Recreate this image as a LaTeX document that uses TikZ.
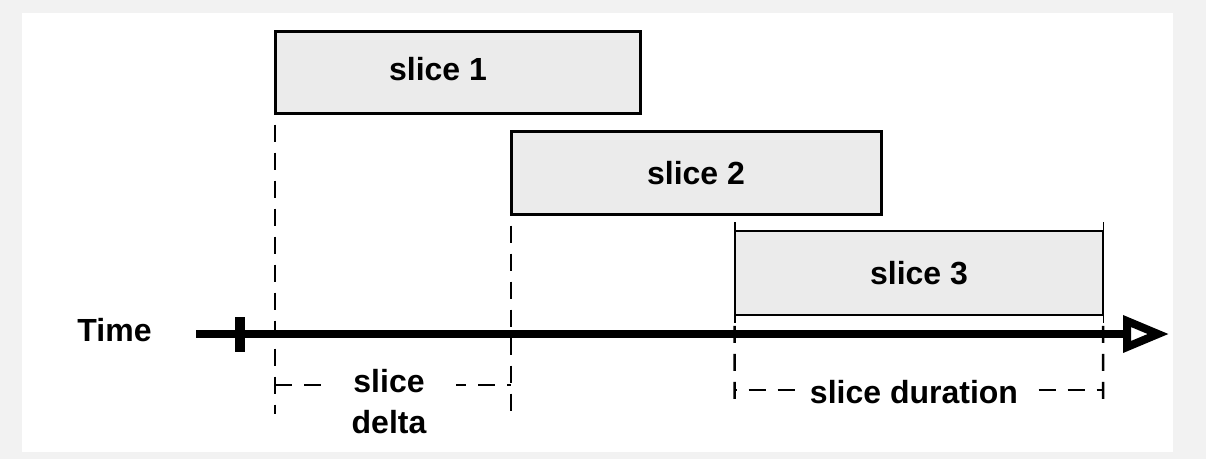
\documentclass[tikz,border=0pt]{standalone}
\usepackage{fontspec}
\setmainfont{Liberation Sans}
\definecolor{bggray}{RGB}{242,242,242}
\definecolor{boxgray}{RGB}{235,235,235}
\begin{document}
\begin{tikzpicture}[x=1pt,y=-1pt,
  slicebox/.style={draw=black, line width=3pt, fill=boxgray, inner sep=0pt, outer sep=0pt,
    font=\fontsize{32}{41}\selectfont\bfseries},
  lbl/.style={font=\fontsize{32}{41}\selectfont\bfseries, inner sep=0pt, align=center},
  vdash/.style={line width=2.5pt, dash pattern=on 17pt off 11pt, dash phase=17pt},
  hdash/.style={line width=2pt, dash pattern=on 17pt off 12pt},
  tickline/.style={line width=1.5pt}
]
\useasboundingbox (0,0) rectangle (1206,459);
\fill[bggray] (0,0) rectangle (1206,459);
\fill[white] (22,13) rectangle (1173,452);

% slices
\node[slicebox, minimum width=365pt, minimum height=82pt] (s1) at (457.5,72.5) {};
\node[lbl] (t1) at (438,69) {slice 1};
\node[slicebox, minimum width=370pt, minimum height=83pt] (s2) at (696,173) {slice 2};
\node[slicebox, line width=2pt, minimum width=368.5pt, minimum height=83.5pt] (s3) at (919,273) {slice 3};

% end coordinates
\coordinate (d1) at (275,414);
\coordinate (d2) at (511,414);
\coordinate (d3) at (734.5,407);
\coordinate (d4) at (1103,407);

% dashed verticals
\draw[vdash] (s1.south west) -- (d1);
\draw[vdash] (s2.south west) -- (d2);
\draw[vdash] (s3.south west) -- (d3);
\draw[vdash] (s3.south east) -- (d4);

% slice 3 end ticks
\draw[tickline] ([yshift=9pt]s3.north west) -- ([yshift=-8.5pt]s3.south west);
\draw[tickline] ([yshift=9pt]s3.north east) -- ([yshift=-8.5pt]s3.south east);

% time axis
\node[lbl] (time) at (114.5,330) {Time};
\coordinate (a0) at (196,334);
\coordinate (a1) at (1127,334);
\draw[line width=8pt] (a0) -- (a1);
\draw[line width=10pt] (240,317) -- (240,352);
\draw[line width=8pt, line join=miter, fill=white] (1127,321) -- (1158,334) -- (1127,347) -- cycle;

% slice delta
\coordinate (h1) at (275,385);
\coordinate (h2) at (511,385);
\draw[hdash] (h1) -- (h2);
\node[lbl, fill=white, inner xsep=30pt, inner ysep=2pt] (delta) at (389,402) {slice\\delta};

% slice duration
\coordinate (h3) at (734.5,390);
\coordinate (h4) at (1103,390);
\draw[hdash, dash phase=15pt] (h3) -- (h4);
\node[lbl, fill=white, inner xsep=14pt, inner ysep=2pt] (dur) at (914,392) {slice duration};
\end{tikzpicture}
\end{document}
